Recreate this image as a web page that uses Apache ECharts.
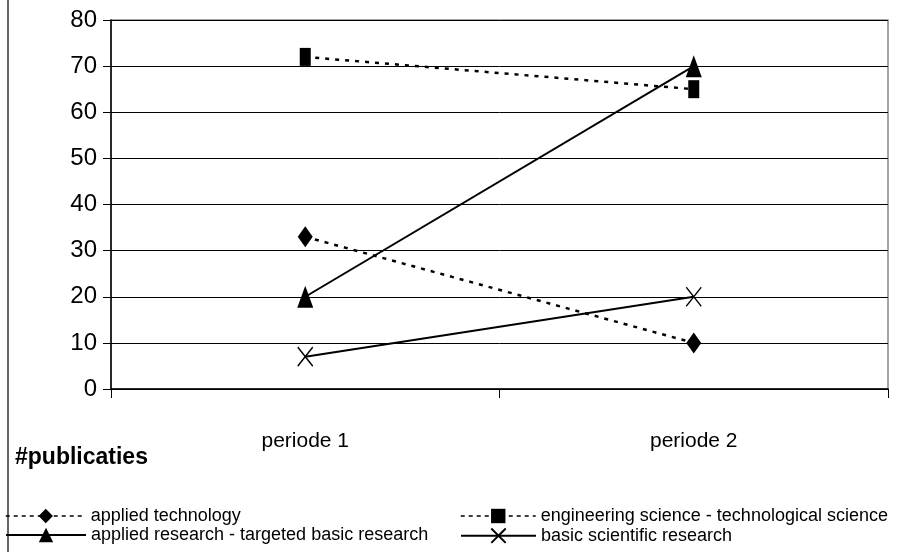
<!DOCTYPE html>
<html>
<head>
<meta charset="utf-8">
<title>#publicaties</title>
<script src="https://cdn.jsdelivr.net/npm/echarts@6/dist/echarts.min.js"></script>
<style>
  html, body { margin: 0; padding: 0; background: #fff; }
  #chart { width: 903px; height: 552px; }
</style>
</head>
<body>
<div id="chart"></div>
<script>
// Categories and values per research type
const periods = ['periode 1', 'periode 2'];
const appliedTechnology = [33, 10];
const engineeringScience = [72, 65];
const appliedResearch = [20, 70];
const basicResearch = [7, 20];
const yTicks = [0, 10, 20, 30, 40, 50, 60, 70, 80];

const FONT = '"Liberation Sans", Arial, sans-serif';
const crossPath = 'path://M0,0L10,10M10,0L0,10';

const chart = echarts.init(document.getElementById('chart'), null, { renderer: 'canvas' });

const dotted = { color: '#000', width: 2.5, type: [4, 6] };
const solid = { color: '#000', width: 2, type: 'solid' };
const legendDash = { color: '#000', width: 1.5, type: [4, 4] };
const legendSolid = { color: '#000', width: 2, type: 'solid' };

// One legend block per entry, laid out as a two-by-two table
function legendBlock(name, left, top, width, lineStyle) {
  return {
    left: left, top: top, orient: 'horizontal',
    itemWidth: width, itemHeight: 18,
    textStyle: { color: '#000', fontFamily: FONT, fontSize: 18 },
    data: [{ name: name, lineStyle: lineStyle }]
  };
}

chart.setOption({
  animation: false,
  backgroundColor: '#fff',
  grid: {
    left: 111, right: 15, top: 20, bottom: 163,
    show: true, borderColor: '#888', borderWidth: 1.5, backgroundColor: 'transparent'
  },
  xAxis: {
    type: 'category',
    data: periods,
    boundaryGap: true,
    axisLine: { lineStyle: { color: '#000', width: 1.5 } },
    axisTick: { show: true, length: 9, inside: false, lineStyle: { color: '#000' } },
    axisLabel: { color: '#000', fontFamily: FONT, fontSize: 21, margin: 42 },
    splitLine: { show: false }
  },
  yAxis: {
    type: 'value',
    min: yTicks[0],
    max: yTicks[yTicks.length - 1],
    interval: 10,
    axisLine: { show: true, lineStyle: { color: '#000', width: 1.5 } },
    axisTick: { show: true, length: 8, lineStyle: { color: '#000' } },
    axisLabel: { color: '#000', fontFamily: FONT, fontSize: 24, margin: 14 },
    splitLine: { show: true, lineStyle: { color: '#000', width: 1 } }
  },
  legend: [
    legendBlock('applied technology', 0, 502, 80, legendDash),
    legendBlock('applied research - targeted basic research', 0, 521, 80, legendSolid),
    legendBlock('engineering science - technological science', 455, 502, 75, legendDash),
    legendBlock('basic scientific research', 455, 521, 75, legendSolid)
  ],
  graphic: [
    {
      type: 'line', silent: true,
      shape: { x1: 8, y1: 0, x2: 8, y2: 552 },
      style: { stroke: '#666', lineWidth: 2 }
    },
    {
      type: 'text', left: 15, top: 446, silent: true,
      style: { text: '#publicaties', fill: '#000', font: 'bold 23px ' + FONT }
    }
  ],
  series: [
    {
      name: 'applied technology', type: 'line', data: appliedTechnology,
      symbol: 'diamond', symbolSize: [15, 21],
      lineStyle: dotted, itemStyle: { color: '#000' }, z: 3
    },
    {
      name: 'engineering science - technological science', type: 'line', data: engineeringScience,
      symbol: 'rect', symbolSize: [11, 18],
      lineStyle: dotted, itemStyle: { color: '#000' }, z: 3
    },
    {
      name: 'applied research - targeted basic research', type: 'line', data: appliedResearch,
      symbol: 'triangle', symbolSize: [16, 22],
      lineStyle: solid, itemStyle: { color: '#000' }, z: 4
    },
    {
      name: 'basic scientific research', type: 'line', data: basicResearch,
      symbol: crossPath, symbolSize: [15, 19],
      lineStyle: solid, itemStyle: { color: 'none', borderColor: '#000', borderWidth: 1.5 }, z: 4
    }
  ]
});
</script>
</body>
</html>
